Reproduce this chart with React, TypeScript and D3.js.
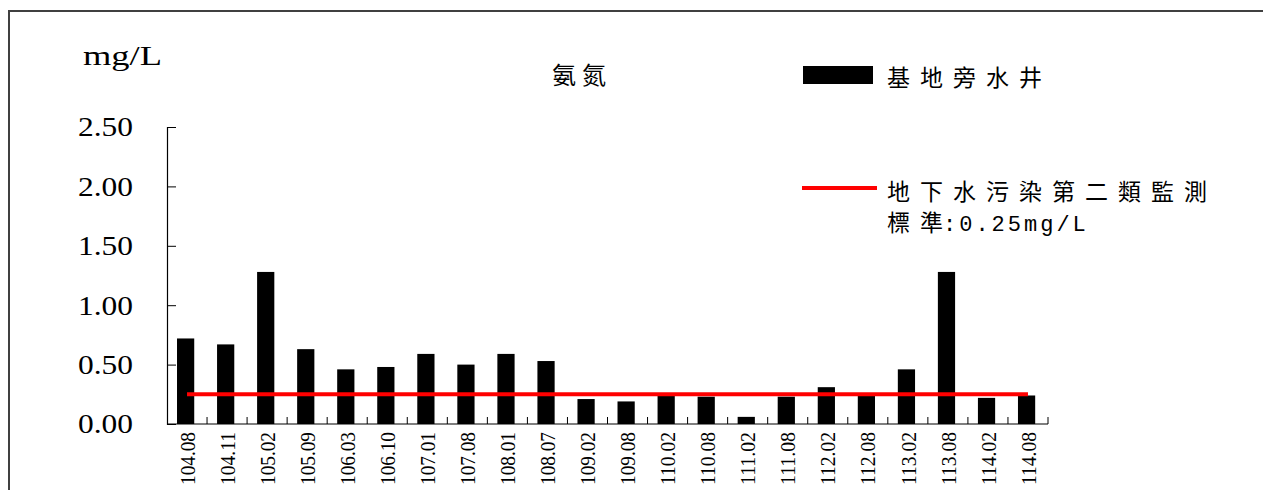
import React, { useEffect, useRef } from 'react';
import * as d3 from 'd3';

const periods = [
    '104.08', '104.11', '105.02', '105.09', '106.03', '106.10', '107.01', '107.08',
    '108.01', '108.07', '109.02', '109.08', '110.02', '110.08', '111.02', '111.08',
    '112.02', '112.08', '113.02', '113.08', '114.02', '114.08',
];
const wellValues = [
    0.72, 0.67, 1.28, 0.63, 0.46, 0.48, 0.59, 0.50,
    0.59, 0.53, 0.21, 0.19, 0.24, 0.23, 0.06, 0.23,
    0.31, 0.24, 0.46, 1.28, 0.22, 0.24,
];
const standardValue = 0.25;
const yTicks = [0, 0.5, 1.0, 1.5, 2.0, 2.5];

const App: React.FC = () => {
    const svgRef = useRef<SVGSVGElement | null>(null);

    useEffect(() => {
        if (!svgRef.current) return;
        const root = d3.select(svgRef.current);
        root.selectAll('*').remove();
        // page coordinates: svg is fixed at the window origin
        const svg = root.append('g');

        const serif = '"Liberation Serif", "Times New Roman", serif';
        const cjk = '"Noto Sans CJK TC", "Noto Sans CJK SC", sans-serif';

        // outer frame: only the top and left edges are inside the picture
        svg.append('path')
            .attr('d', 'M9,490V11H1263')
            .attr('fill', 'none')
            .attr('stroke', '#404040')
            .attr('stroke-width', 2);

        const x = d3.scaleBand<string>()
            .domain(periods)
            .range([167, 1048])
            .padding(0);
        const y = d3.scaleLinear().domain([0, 2.5]).range([424, 127]);
        const bw = x.bandwidth();

        // bars
        svg.append('g')
            .selectAll('rect')
            .data(periods)
            .enter().append('rect')
            .attr('x', d => (x(d) as number) + bw * 0.25)
            .attr('y', (_d, i) => y(wellValues[i]))
            .attr('width', bw * 0.43)
            .attr('height', (_d, i) => y(0) - y(wellValues[i]))
            .attr('fill', '#000');

        // standard line
        const line = d3.line<string>()
            .x(d => (x(d) as number) + bw / 2)
            .y(() => y(standardValue));
        svg.append('path')
            .attr('d', line([periods[0], periods[periods.length - 1]]))
            .attr('stroke', '#ff0000')
            .attr('stroke-width', 4)
            .attr('fill', 'none');

        // y axis
        const yAxis = d3.axisRight(y)
            .tickValues(yTicks)
            .tickSize(9)
            .tickFormat(() => '');
        const yg = svg.append('g').attr('transform', 'translate(167,0)').call(yAxis);
        yg.select('.domain').attr('stroke', '#000').attr('stroke-width', 1.2);
        yg.selectAll('.tick line').attr('stroke', '#000');

        svg.append('g')
            .selectAll('text')
            .data(yTicks)
            .enter().append('text')
            .attr('x', 133)
            .attr('y', d => y(d))
            .attr('dy', '0.35em')
            .attr('text-anchor', 'end')
            .attr('font-family', serif)
            .attr('font-size', 27)
            .attr('textLength', 55)
            .attr('lengthAdjust', 'spacingAndGlyphs')
            .text(d => d.toFixed(2));

        // x axis: ticks at category boundaries pointing up
        svg.append('line')
            .attr('x1', 167).attr('x2', 1048)
            .attr('y1', y(0)).attr('y2', y(0))
            .attr('stroke', '#000').attr('stroke-width', 1.2);
        const bounds = periods.map(p => (x(p) as number) + bw);
        svg.append('g')
            .selectAll('line')
            .data(bounds)
            .enter().append('line')
            .attr('x1', d => d).attr('x2', d => d)
            .attr('y1', y(0)).attr('y2', y(0) - 7)
            .attr('stroke', '#000');

        svg.append('g')
            .selectAll('text')
            .data(periods)
            .enter().append('text')
            .attr('transform', d => `translate(${(x(d) as number) + bw / 2},432) rotate(-90)`)
            .attr('dy', '0.35em')
            .attr('text-anchor', 'end')
            .attr('font-family', serif)
            .attr('font-size', 22)
            .attr('textLength', 53)
            .attr('lengthAdjust', 'spacingAndGlyphs')
            .text(d => d);

        // unit + title
        svg.append('text')
            .attr('x', 83).attr('y', 65)
            .attr('font-family', serif)
            .attr('font-size', 27)
            .attr('textLength', 79)
            .attr('lengthAdjust', 'spacingAndGlyphs')
            .text('mg/L');

        svg.append('text')
            .attr('x', 552).attr('y', 84)
            .attr('font-family', cjk)
            .attr('font-size', 24)
            .attr('letter-spacing', 6)
            .text('氨氮');

        // legend
        svg.append('rect')
            .attr('x', 803).attr('y', 66)
            .attr('width', 70).attr('height', 18)
            .attr('fill', '#000');
        svg.append('text')
            .attr('x', 887).attr('y', 86)
            .attr('font-family', cjk)
            .attr('font-size', 23)
            .attr('letter-spacing', 10)
            .text('基地旁水井');

        svg.append('line')
            .attr('x1', 802).attr('x2', 877)
            .attr('y1', 188).attr('y2', 188)
            .attr('stroke', '#ff0000')
            .attr('stroke-width', 4);
        svg.append('text')
            .attr('x', 887).attr('y', 200)
            .attr('font-family', cjk)
            .attr('font-size', 23)
            .attr('letter-spacing', 10)
            .text('地下水污染第二類監測');
        const l2 = svg.append('text')
            .attr('x', 887).attr('y', 231)
            .attr('font-size', 23);
        l2.append('tspan')
            .attr('font-family', cjk)
            .attr('letter-spacing', 10)
            .text('標');
        l2.append('tspan')
            .attr('font-family', cjk)
            .text('準');
        l2.append('tspan')
            .attr('font-family', '"Liberation Mono", "DejaVu Sans Mono", monospace')
            .attr('font-size', 22)
            .attr('letter-spacing', 3)
            .text(`:${standardValue.toFixed(2)}mg/L`);
    }, []);

    return (
        <svg ref={svgRef} width={1263} height={490}
            style={{ position: 'fixed', left: 0, top: 0, display: 'block', background: '#fff' }}></svg>
    );
};

export default App;
